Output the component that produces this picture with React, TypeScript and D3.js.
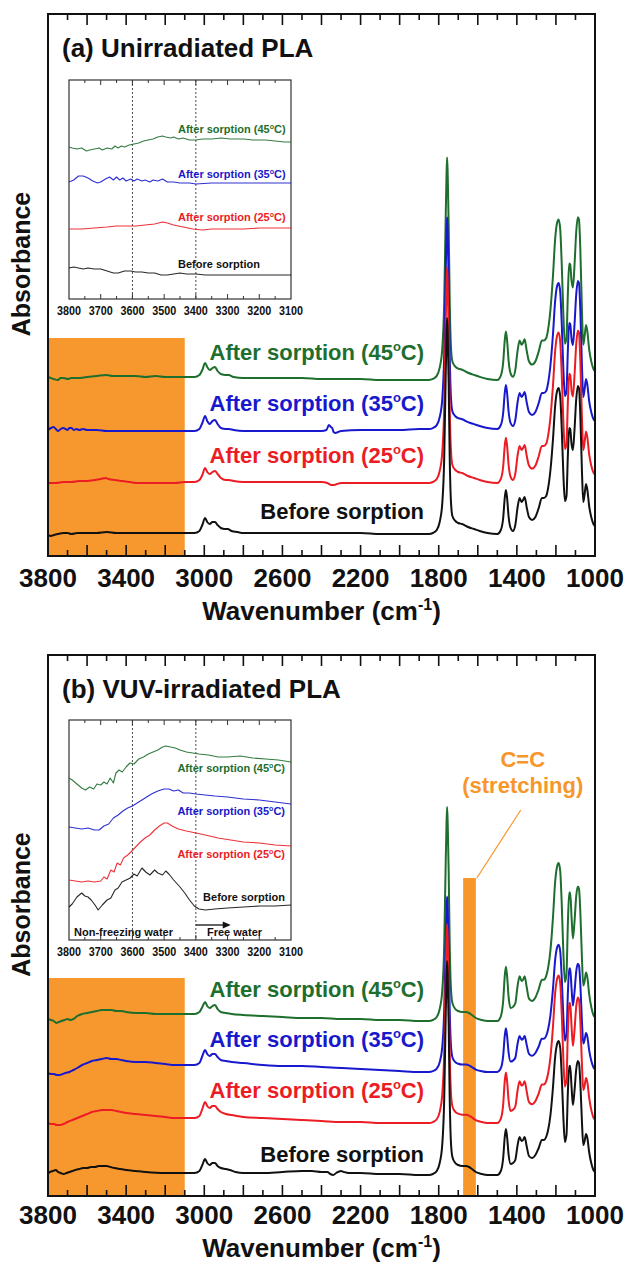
import React from "react";
import * as d3 from "d3";

type Pt = [number, number];

// ---------- axis / labels ----------
const WN_HI = 3800;
const WN_LO = 1000;
const INSET_HI = 3800;
const INSET_LO = 3100;
const mainTickLabels = [3800, 3400, 3000, 2600, 2200, 1800, 1400, 1000];
const insetTickLabels = [3800, 3700, 3600, 3500, 3400, 3300, 3200, 3100];
const insetGuides = [3600, 3400];
const panelTitles = ["(a) Unirradiated PLA", "(b) VUV-irradiated PLA"];
const seriesNames = ["Before sorption", "After sorption", "After sorption", "After sorption"];
const seriesTemps: (number | null)[] = [null, 25, 35, 45];
const seriesColors = ["#111111", "#ec1c24", "#1818cc", "#1e6e2e"];
const waterRegion: Pt = [3800, 3100];
const ccRegion: Pt = [1675, 1610];

// ---------- panel (a) spectra: 3800–1850 cm-1 (absorbance, a.u.) ----------
const aBefore: Pt[] = [[3800,21],[3785,20],[3770,21],[3750,22],[3720,23],[3700,23],[3680,22],[3650,23],[3600,23],[3550,23],[3500,24],[3450,23],[3400,23],[3350,23],[3300,23],[3200,23],[3100,23],[3050,23],[3025,25],[3010,31],[2996,38],[2985,34],[2972,32],[2958,34],[2945,34],[2932,31],[2915,28],[2895,27],[2880,27],[2860,25],[2830,24],[2800,23],[2700,23],[2600,23],[2500,23],[2400,23],[2300,23],[2200,23],[2100,22],[2000,22],[1900,22],[1850,22]];
const a25: Pt[] = [[3800,73],[3760,73],[3720,74],[3680,74],[3640,75],[3600,75],[3560,76],[3530,77],[3505,78],[3490,77],[3460,76],[3420,75],[3380,74],[3340,73],[3300,73],[3250,73],[3200,73],[3150,73],[3100,74],[3050,74],[3025,76],[3010,81],[2996,88],[2985,84],[2972,82],[2958,84],[2945,85],[2932,82],[2915,78],[2890,76],[2875,76],[2850,75],[2800,74],[2700,74],[2600,74],[2500,74],[2400,74],[2370,73],[2350,71],[2335,71],[2320,72],[2300,73],[2200,73],[2100,73],[2000,73],[1900,73],[1850,73]];
const a35: Pt[] = [[3800,126],[3785,128],[3772,129],[3760,127],[3748,125],[3735,127],[3722,128],[3710,127],[3700,126],[3690,128],[3680,128],[3668,126],[3655,127],[3640,126],[3620,127],[3600,126],[3550,126],[3500,125],[3450,125],[3400,125],[3300,125],[3200,125],[3100,125],[3050,125],[3025,127],[3010,133],[2996,140],[2985,135],[2972,132],[2958,135],[2945,136],[2932,132],[2915,128],[2890,127],[2875,127],[2850,126],[2800,125],[2700,125],[2600,125],[2500,125],[2400,125],[2375,126],[2362,131],[2352,129],[2345,128],[2338,124],[2328,123],[2315,124],[2300,125],[2200,126],[2100,126],[2000,126],[1900,127],[1850,127]];
const a45: Pt[] = [[3800,179],[3785,178],[3770,177],[3750,176],[3735,178],[3720,178],[3700,177],[3680,178],[3650,178],[3600,179],[3550,180],[3500,181],[3470,180],[3450,180],[3400,180],[3350,180],[3300,179],[3250,180],[3200,179],[3150,179],[3100,179],[3050,179],[3025,181],[3010,186],[2996,193],[2985,189],[2972,186],[2958,188],[2945,189],[2932,185],[2915,182],[2890,181],[2875,181],[2850,179],[2800,178],[2700,178],[2600,178],[2500,178],[2400,177],[2300,177],[2200,177],[2100,176],[2000,176],[1900,176],[1850,176]];

// carbonyl + fingerprint band of PLA above local baseline, panel (a)
const aBand: Pt[] = [[1850,0],[1830,1],[1810,4],[1795,12],[1782,30],[1772,75],[1765,150],[1760,200],[1757,216],[1754,200],[1749,150],[1744,80],[1738,35],[1730,18],[1715,13],[1700,11],[1680,10],[1650,7],[1620,5],[1590,3],[1550,1],[1500,0],[1482,4],[1470,16],[1462,36],[1456,44],[1450,36],[1442,17],[1432,6],[1420,3],[1408,9],[1396,27],[1386,36],[1376,32],[1368,34],[1360,37],[1350,27],[1338,17],[1322,14],[1305,17],[1288,26],[1272,36],[1262,36],[1250,38],[1240,46],[1228,64],[1215,95],[1204,128],[1194,143],[1186,146],[1178,137],[1170,104],[1162,60],[1154,33],[1146,38],[1139,78],[1132,106],[1127,105],[1120,90],[1113,84],[1105,104],[1096,135],[1088,148],[1082,146],[1075,118],[1067,64],[1060,32],[1053,40],[1046,50],[1039,44],[1030,28],[1018,16],[1008,10],[1000,8]];

// ---------- panel (b) spectra ----------
const bBefore: Pt[] = [[3800,23],[3790,24],[3775,25],[3760,26],[3748,24],[3735,23],[3720,22],[3705,23],[3690,24],[3675,25],[3660,26],[3640,27],[3620,28],[3600,28],[3580,29],[3560,29],[3540,30],[3520,30],[3500,30],[3480,29],[3460,28],[3430,27],[3400,26],[3350,25],[3300,24],[3200,23],[3100,23],[3050,23],[3025,25],[3010,31],[2996,37],[2985,33],[2972,31],[2958,33],[2945,33],[2932,30],[2915,28],[2890,27],[2870,26],[2840,24],[2800,23],[2700,23],[2600,24],[2500,25],[2450,25],[2400,24],[2370,24],[2355,22],[2340,21],[2325,23],[2300,25],[2285,24],[2260,23],[2200,23],[2100,22],[2000,22],[1900,21],[1850,21]];
const b25: Pt[] = [[3800,73],[3785,72],[3770,72],[3755,71],[3740,71],[3720,72],[3700,74],[3675,76],[3650,78],[3625,80],[3600,82],[3575,84],[3550,85],[3525,86],[3500,86],[3475,86],[3450,85],[3425,84],[3400,83],[3350,82],[3300,81],[3250,80],[3200,79],[3150,78],[3100,78],[3050,78],[3025,80],[3010,87],[2996,94],[2985,90],[2972,88],[2958,90],[2945,90],[2932,87],[2915,84],[2890,82],[2860,81],[2800,79],[2700,78],[2600,77],[2500,76],[2400,75],[2300,74],[2200,74],[2100,73],[2000,73],[1900,73],[1850,73]];
const b35: Pt[] = [[3800,123],[3785,122],[3770,122],[3755,121],[3740,121],[3725,122],[3710,123],[3690,124],[3670,126],[3650,128],[3625,131],[3600,133],[3575,135],[3550,136],[3525,137],[3500,138],[3475,137],[3450,137],[3425,136],[3400,135],[3350,134],[3300,134],[3250,133],[3200,132],[3150,131],[3100,131],[3050,131],[3025,133],[3010,140],[2996,146],[2985,142],[2972,140],[2958,142],[2945,142],[2932,139],[2915,136],[2890,135],[2860,134],[2800,133],[2700,131],[2600,130],[2500,130],[2400,129],[2300,128],[2200,127],[2100,126],[2000,125],[1900,124],[1850,124]];
const b45: Pt[] = [[3800,177],[3785,176],[3770,175],[3758,173],[3745,174],[3730,175],[3715,176],[3700,177],[3685,176],[3670,177],[3650,180],[3625,182],[3600,183],[3575,184],[3550,185],[3525,186],[3500,186],[3475,186],[3450,185],[3425,185],[3400,184],[3350,183],[3300,183],[3250,182],[3200,182],[3150,182],[3100,182],[3050,182],[3025,184],[3010,189],[2996,194],[2985,190],[2972,188],[2958,190],[2945,191],[2932,187],[2915,184],[2890,183],[2860,182],[2800,181],[2700,180],[2600,179],[2500,178],[2400,178],[2300,177],[2200,177],[2100,176],[2000,176],[1900,175],[1850,175]];

const bBand: Pt[] = [[1850,0],[1830,1],[1810,4],[1795,12],[1782,30],[1772,75],[1765,150],[1760,198],[1757,214],[1754,198],[1749,150],[1744,80],[1738,35],[1730,18],[1715,12],[1700,10],[1680,9],[1660,9],[1645,8],[1630,6],[1610,3],[1580,1],[1550,0],[1500,0],[1482,4],[1470,17],[1462,38],[1456,46],[1450,38],[1442,20],[1432,11],[1420,12],[1408,15],[1396,30],[1386,38],[1376,34],[1368,35],[1360,38],[1350,29],[1338,19],[1322,17],[1305,20],[1288,27],[1272,35],[1262,35],[1250,38],[1240,45],[1228,60],[1215,88],[1204,118],[1194,131],[1186,134],[1178,127],[1170,98],[1162,58],[1154,33],[1146,40],[1139,82],[1132,109],[1127,109],[1120,88],[1113,70],[1105,84],[1096,106],[1088,114],[1082,112],[1075,92],[1067,54],[1060,30],[1053,34],[1046,41],[1039,37],[1030,23],[1018,11],[1008,5],[1000,3]];

// band intensity factors per series [before, 25, 35, 45]: carbonyl, fingerprint
const aCarbonylScale = [1.0, 1.0, 0.98, 1.03];
const aFingerScale = [1.0, 1.03, 1.0, 1.1];
const bCarbonylScale = [1.0, 0.93, 0.82, 1.0];
const bFingerScale = [1.0, 1.1, 0.95, 1.18];

// ---------- insets: 3800–3100 cm-1 (a.u.) ----------
const aInBefore: Pt[] = [[3800,31],[3785,32],[3770,31],[3755,30],[3740,31],[3720,30],[3700,30],[3680,28],[3660,26],[3645,26],[3625,28],[3605,28],[3590,27],[3570,27],[3550,26],[3530,26],[3510,24],[3490,24],[3470,25],[3450,26],[3430,25],[3400,25],[3370,24],[3330,24],[3300,24],[3250,24],[3200,24],[3150,24],[3100,24]];
const aIn25: Pt[] = [[3800,70],[3760,70],[3720,71],[3680,72],[3650,73],[3620,73],[3590,73],[3560,74],[3530,75],[3505,77],[3490,76],[3470,74],[3440,72],[3410,70],[3380,69],[3350,70],[3300,70],[3250,70],[3200,71],[3150,71],[3100,71]];
const aIn35: Pt[] = [[3800,117],[3785,119],[3770,123],[3755,123],[3740,121],[3725,118],[3710,116],[3700,117],[3685,120],[3672,122],[3660,119],[3650,122],[3640,119],[3630,121],[3620,118],[3605,120],[3595,118],[3585,120],[3570,118],[3560,119],[3545,117],[3535,119],[3520,118],[3505,120],[3490,117],[3470,117],[3450,116],[3420,116],[3400,115],[3350,116],[3300,116],[3200,116],[3100,116]];
const aIn45: Pt[] = [[3800,152],[3790,151],[3775,150],[3760,151],[3745,148],[3735,149],[3720,150],[3705,151],[3695,149],[3680,151],[3665,150],[3655,153],[3645,151],[3635,153],[3625,152],[3610,154],[3595,155],[3580,156],[3565,158],[3550,159],[3535,160],[3520,162],[3505,163],[3495,162],[3480,161],[3470,162],[3455,160],[3440,161],[3420,159],[3400,159],[3380,160],[3350,160],[3320,161],[3290,160],[3250,160],[3220,159],[3180,159],[3150,158],[3120,157],[3100,157]];

const bInBefore: Pt[] = [[3800,33],[3790,36],[3775,43],[3760,47],[3750,44],[3740,43],[3730,40],[3718,35],[3708,30],[3695,35],[3680,40],[3668,42],[3655,50],[3645,52],[3633,58],[3620,60],[3607,62],[3595,66],[3585,64],[3570,72],[3558,68],[3545,65],[3530,70],[3520,67],[3505,65],[3495,69],[3485,66],[3470,60],[3450,53],[3435,47],[3420,40],[3405,34],[3390,31],[3370,30],[3340,31],[3300,32],[3250,33],[3200,34],[3150,34],[3100,35]];
const bIn25: Pt[] = [[3800,60],[3780,59],[3760,58],[3740,59],[3720,58],[3700,59],[3690,63],[3680,61],[3668,70],[3658,68],[3648,77],[3638,75],[3628,82],[3615,85],[3605,88],[3590,93],[3575,98],[3560,102],[3545,105],[3530,110],[3515,114],[3500,117],[3490,117],[3475,114],[3455,111],[3430,109],[3400,107],[3370,105],[3330,102],[3290,100],[3250,98],[3200,97],[3150,95],[3100,94]];
const bIn35: Pt[] = [[3800,113],[3780,112],[3760,111],[3740,112],[3720,110],[3705,110],[3690,114],[3675,116],[3660,122],[3645,125],[3630,129],[3615,132],[3600,134],[3580,138],[3560,142],[3540,146],[3520,149],[3500,151],[3485,151],[3470,149],[3455,150],[3440,147],[3420,147],[3400,146],[3370,145],[3340,144],[3300,143],[3250,141],[3200,140],[3150,138],[3100,136]];
const bIn45: Pt[] = [[3800,162],[3790,160],[3775,156],[3760,152],[3748,150],[3735,153],[3722,151],[3712,156],[3700,155],[3690,158],[3680,156],[3670,162],[3660,157],[3652,167],[3642,170],[3632,168],[3620,173],[3608,177],[3595,176],[3580,181],[3565,183],[3550,186],[3535,188],[3520,190],[3505,193],[3495,194],[3480,193],[3465,192],[3450,190],[3430,188],[3410,187],[3390,186],[3360,185],[3330,183],[3300,183],[3260,184],[3220,182],[3180,181],[3140,180],[3100,178]];

// ---------- layout ----------
const FONT = "'Liberation Sans', Arial, Helvetica, sans-serif";
const FRAME_L = 48;
const FRAME_R = 595;
const PANEL_TOP = [14, 655];
const PANEL_BOT = [556, 1196];
const TICK_GAP = [31, 28];
const TITLE_GAP = [64, 61];
const INSET_L = 69;
const INSET_R = 291;
const INSET_TOP = [80, 720];
const INSET_BOT = [299, 940];
const MAIN_LABEL_Y = [[519, 463, 411, 360], [1162, 1098, 1047, 997]];
const INSET_LABEL_Y = [[268, 221, 178, 133], [901, 858, 815, 772]];

function compose(hi: Pt[], band: Pt[], c: number, f: number): Pt[] {
  const base = hi[hi.length - 1][1];
  return hi.concat(band.slice(1).map(([w, h]) => [w, base + h * (w > 1500 ? c : f)] as Pt));
}

const panelData = [
  {
    main: [aBefore, a25, a35, a45].map((hi, i) => compose(hi, aBand, aCarbonylScale[i], aFingerScale[i])),
    inset: [aInBefore, aIn25, aIn35, aIn45],
  },
  {
    main: [bBefore, b25, b35, b45].map((hi, i) => compose(hi, bBand, bCarbonylScale[i], bFingerScale[i])),
    inset: [bInBefore, bIn25, bIn35, bIn45],
  },
];

function SeriesText({ i, x, y, size, anchor, supSize, supDy }: any) {
  const t = seriesTemps[i];
  return (
    <text x={x} y={y} fontSize={size} fontWeight="bold" fontFamily={FONT} fill={seriesColors[i]} textAnchor={anchor}>
      {t === null ? (
        seriesNames[i]
      ) : (
        <>
          {`${seriesNames[i]} (${t}`}
          <tspan dy={-supDy} fontSize={supSize}>o</tspan>
          <tspan dy={supDy}>C)</tspan>
        </>
      )}
    </text>
  );
}

function Panel({ p }: { p: number }) {
  const top = PANEL_TOP[p];
  const bot = PANEL_BOT[p];
  const x = d3.scaleLinear().domain([WN_HI, WN_LO]).range([FRAME_L, FRAME_R]);
  const y = d3.scaleLinear().domain([0, bot - top]).range([bot, top]);
  const line = d3.line<Pt>().x((d) => x(d[0])).y((d) => y(d[1])).curve(d3.curveMonotoneX);

  const iTop = INSET_TOP[p];
  const iBot = INSET_BOT[p];
  const xi = d3.scaleLinear().domain([INSET_HI, INSET_LO]).range([INSET_L, INSET_R]);
  const yi = d3.scaleLinear().domain([0, iBot - iTop]).range([iBot, iTop]);
  const iline = d3.line<Pt>().x((d) => xi(d[0])).y((d) => yi(d[1])).curve(d3.curveLinear);

  const ticks = d3.range(WN_LO + 100, WN_HI, 100);
  const iticks = d3.range(INSET_LO + 50, INSET_HI, 50);
  const data = panelData[p];
  const drawOrder = [3, 2, 1, 0];
  const midY = (top + bot) / 2 - 21;

  return (
    <g>
      {/* highlighted OH region */}
      <rect x={x(waterRegion[0])} y={y(218)} width={x(waterRegion[1]) - x(waterRegion[0])} height={bot - y(218)} fill="#f7982f" />
      {p === 1 && (
        <g>
          <rect x={x(ccRegion[0])} y={y(318)} width={x(ccRegion[1]) - x(ccRegion[0])} height={bot - y(318)} fill="#f7962b" />
          <line x1={x(ccRegion[1]) + 1} y1={y(318)} x2={x(1380)} y2={y(386)} stroke="#f7962b" strokeWidth={1.2} />
          <text x={x(1370)} y={767} fontSize={22} fontWeight="bold" fontFamily={FONT} fill="#f7962b" textAnchor="middle">C=C</text>
          <text x={x(1370)} y={793} fontSize={22} fontWeight="bold" fontFamily={FONT} fill="#f7962b" textAnchor="middle">(stretching)</text>
        </g>
      )}
      {/* spectra */}
      {drawOrder.map((i) => (
        <path key={i} d={line(data.main[i]) || ""} fill="none" stroke={seriesColors[i]} strokeWidth={2} strokeLinejoin="round" />
      ))}
      {drawOrder.map((i) => (
        <SeriesText key={"l" + i} i={i} x={x(1875)} y={MAIN_LABEL_Y[p][i]} size={22} anchor="end" supSize={13} supDy={9} />
      ))}
      {/* frame + ticks */}
      <rect x={FRAME_L} y={top} width={FRAME_R - FRAME_L} height={bot - top} fill="none" stroke="#111" strokeWidth={2} />
      {ticks.map((t) => {
        const len = t % 200 === 0 ? 11 : 6;
        return (
          <g key={t}>
            <line x1={x(t)} x2={x(t)} y1={bot} y2={bot - len} stroke="#111" strokeWidth={1.6} />
            <line x1={x(t)} x2={x(t)} y1={top} y2={top + len} stroke="#111" strokeWidth={1.6} />
          </g>
        );
      })}
      {mainTickLabels.map((t) => (
        <text key={t} x={x(t)} y={bot + TICK_GAP[p]} fontSize={26} fontWeight="bold" fontFamily={FONT} textAnchor="middle" fill="#111">{t}</text>
      ))}
      <text x={(FRAME_L + FRAME_R) / 2} y={bot + TITLE_GAP[p]} fontSize={26} fontWeight="bold" fontFamily={FONT} textAnchor="middle" fill="#111">
        Wavenumber (cm<tspan dy={-10} fontSize={16}>-1</tspan><tspan dy={10}>)</tspan>
      </text>
      <text transform={`translate(30,${midY}) rotate(-90)`} fontSize={25} fontWeight="bold" fontFamily={FONT} textAnchor="middle" fill="#111">Absorbance</text>
      <text x={62} y={top + 43} fontSize={26} fontWeight="bold" fontFamily={FONT} fill="#111">{panelTitles[p]}</text>

      {/* inset */}
      <rect x={INSET_L} y={iTop} width={INSET_R - INSET_L} height={iBot - iTop} fill="#fff" stroke="#333" strokeWidth={1.2} />
      {insetGuides.map((g) => (
        <line key={g} x1={xi(g)} x2={xi(g)} y1={iTop} y2={iBot} stroke="#333" strokeWidth={0.9} strokeDasharray="2,2" />
      ))}
      {iticks.map((t) => {
        const len = t % 100 === 0 ? 5 : 3;
        return (
          <g key={t}>
            <line x1={xi(t)} x2={xi(t)} y1={iBot} y2={iBot - len} stroke="#333" strokeWidth={1} />
            <line x1={xi(t)} x2={xi(t)} y1={iTop} y2={iTop + len} stroke="#333" strokeWidth={1} />
          </g>
        );
      })}
      {insetTickLabels.map((t) => (
        <text key={t} x={xi(t)} y={iBot + 16} fontSize={12} fontWeight="bold" fontFamily={FONT} textAnchor="middle" fill="#111" textLength={24} lengthAdjust="spacingAndGlyphs">{t}</text>
      ))}
      {drawOrder.map((i) => (
        <path key={"i" + i} d={iline(data.inset[i]) || ""} fill="none" stroke={seriesColors[i]} strokeWidth={1.1} strokeLinejoin="round" opacity={0.9} />
      ))}
      {drawOrder.map((i) =>
        p === 0 ? (
          <SeriesText key={"il" + i} i={i} x={178} y={INSET_LABEL_Y[p][i]} size={11} anchor="start" supSize={7} supDy={4} />
        ) : (
          <SeriesText key={"il" + i} i={i} x={285} y={INSET_LABEL_Y[p][i]} size={11} anchor="end" supSize={7} supDy={4} />
        )
      )}
      {p === 1 && (
        <g>
          <text x={74} y={936} fontSize={11} fontWeight="bold" fontFamily={FONT} fill="#111">Non-freezing water</text>
          <text x={207} y={936} fontSize={11} fontWeight="bold" fontFamily={FONT} fill="#111">Free water</text>
          <line x1={xi(3400)} x2={xi(3290) - 6} y1={925} y2={925} stroke="#111" strokeWidth={1.3} />
          <path d={`M${xi(3290)},925 L${xi(3290) - 8},921.5 L${xi(3290) - 8},928.5 Z`} fill="#111" />
        </g>
      )}
    </g>
  );
}

export default function App() {
  return (
    <div style={{ position: "absolute", left: 0, top: 0 }}>
      <svg width={624} height={1264} viewBox="0 0 624 1264" style={{ display: "block", background: "#fff" }}>
        <rect x={0} y={0} width={624} height={1264} fill="#fff" />
        <Panel p={0} />
        <Panel p={1} />
      </svg>
    </div>
  );
}
